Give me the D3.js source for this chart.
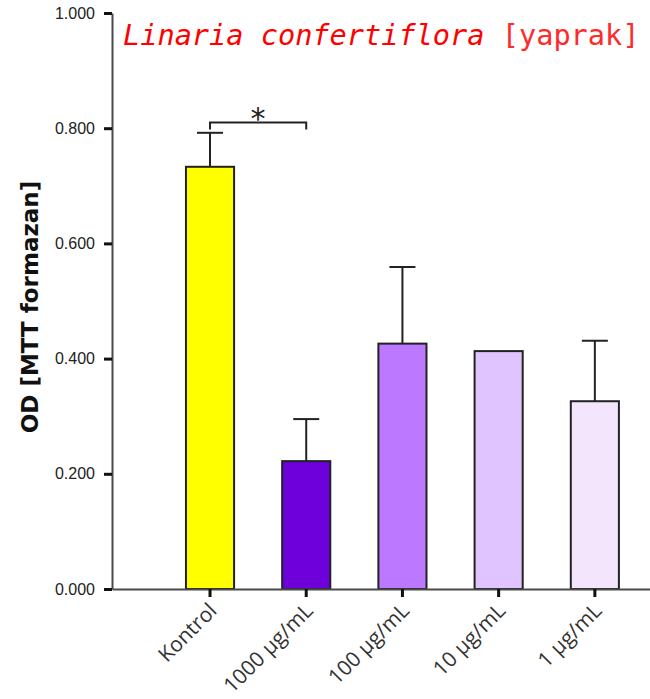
<!DOCTYPE html>
<html>
<head>
<meta charset="utf-8">
<script src="https://cdn.jsdelivr.net/npm/d3@7"></script>
<style>
  html, body { margin: 0; padding: 0; background: #fff; }
  svg { display: block; }
</style>
</head>
<body>
<svg id="chart" width="650" height="699"></svg>
<script>
// ---- data ----
const categories = ["Kontrol", "1000 µg/mL", "100 µg/mL", "10 µg/mL", "1 µg/mL"];
const means = [0.733, 0.222, 0.426, 0.413, 0.326];
const errors = [0.059, 0.073, 0.133, 0, 0.105];
const barColors = ["#ffff00", "#6e00dc", "#bc78ff", "#e0c4ff", "#f3e6fc"];
const yTicks = [0, 0.2, 0.4, 0.6, 0.8, 1.0];
const titleMain = "Linaria confertiflora";
const titleSub = "[yaprak]";
const yLabel = "OD [MTT formazan]";
const sigPair = ["Kontrol", "1000 µg/mL"];
const sigLevel = 0.81;
const sigText = "*";

const svg = d3.select("#chart");

const y = d3.scaleLinear().domain([0, 1]).range([589, 13]);
const x = d3.scaleBand().domain(categories).range([112, 650])
  .paddingInner(0.5).paddingOuter(0.546).align(0.704);

// bars
svg.append("g").selectAll("rect").data(categories).join("rect")
  .attr("x", d => x(d))
  .attr("y", (d, i) => y(means[i]))
  .attr("width", x.bandwidth())
  .attr("height", (d, i) => y(0) - y(means[i]))
  .attr("fill", (d, i) => barColors[i])
  .attr("stroke", "#222")
  .attr("stroke-width", 2);

// error bars (upper only)
const eg = svg.append("g").attr("stroke", "#222").attr("stroke-width", 2);
categories.forEach((c, i) => {
  if (!errors[i]) return;
  const cx = x(c) + x.bandwidth() / 2;
  eg.append("line").attr("x1", cx).attr("x2", cx)
    .attr("y1", y(means[i])).attr("y2", y(means[i] + errors[i]));
  eg.append("line").attr("x1", cx - 13).attr("x2", cx + 13)
    .attr("y1", y(means[i] + errors[i])).attr("y2", y(means[i] + errors[i]));
});

// y axis
const yAxis = d3.axisLeft(y).tickValues(yTicks).tickFormat(d3.format(".3f"))
  .tickSize(8).tickSizeOuter(0).tickPadding(9);
const yg = svg.append("g").attr("transform", "translate(112,0)").call(yAxis);
yg.select(".domain").attr("stroke", "#4a4a4a").attr("stroke-width", 2);
yg.selectAll(".tick line").attr("stroke", "#111").attr("stroke-width", 3);
yg.selectAll(".tick text").attr("font-family", "Liberation Sans, Arial, sans-serif")
  .attr("font-size", 16).attr("fill", "#222");

// x axis
const xAxis = d3.axisBottom(x).tickSize(8).tickSizeOuter(0).tickPadding(6);
const xg = svg.append("g").attr("transform", "translate(0,589)").call(xAxis);
xg.select(".domain").attr("stroke", "#4a4a4a").attr("stroke-width", 2);
xg.selectAll(".tick line").attr("stroke", "#111").attr("stroke-width", 3);
xg.selectAll(".tick text")
  .attr("font-family", "Open Sans, sans-serif")
  .attr("font-size", 21)
  .attr("fill", "#333")
  .attr("text-anchor", "end")
  .attr("dy", "0.35em")
  .attr("transform", "translate(-7,8) rotate(-45)");

// y label
svg.append("text")
  .attr("transform", "translate(38,307) rotate(-90)")
  .attr("text-anchor", "middle")
  .attr("font-family", "DejaVu Sans, Verdana, sans-serif")
  .attr("font-weight", "bold")
  .attr("font-size", 23)
  .attr("fill", "#111")
  .text(yLabel);

// title
const t = svg.append("text")
  .attr("x", 123).attr("y", 45)
  .attr("font-family", "DejaVu Sans Mono, monospace")
  .attr("font-size", 28.6)
  .attr("fill", "#ff0000");
t.append("tspan").attr("font-style", "italic").text(titleMain);
t.append("tspan").attr("font-style", "normal").attr("fill", "#ff2a2a").text(" " + titleSub);

// significance bracket
const x1 = x(sigPair[0]) + x.bandwidth() / 2;
const x2 = x(sigPair[1]) + x.bandwidth() / 2;
const ys = y(sigLevel);
svg.append("path")
  .attr("d", `M${x1},${ys + 7}V${ys}H${x2}V${ys + 7}`)
  .attr("fill", "none").attr("stroke", "#222").attr("stroke-width", 2);
svg.append("text")
  .attr("x", (x1 + x2) / 2).attr("y", ys + 7)
  .attr("text-anchor", "middle")
  .attr("font-family", "DejaVu Sans, sans-serif")
  .attr("font-size", 30)
  .attr("fill", "#222")
  .text(sigText);
</script>
</body>
</html>
